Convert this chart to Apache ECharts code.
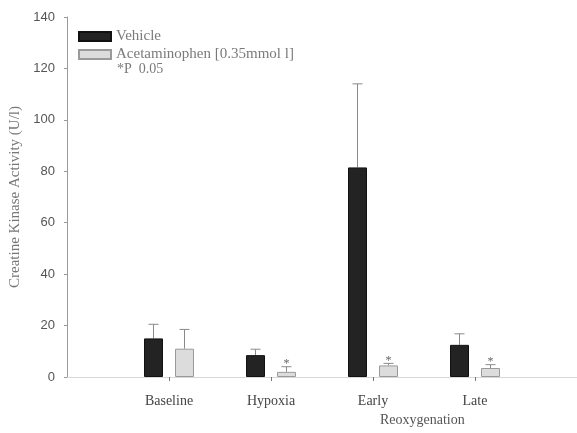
<!DOCTYPE html>
<html>
	<head>
		<meta charset="utf-8">
		<title></title>
		<style>
			html, body { margin: 0; padding: 0; background: #fff; }
			#main { width: 577px; height: 433px; }
		</style>
	</head>
	<body>
		<div id="main"></div>
		<script src="https://cdn.jsdelivr.net/npm/echarts@6/dist/echarts.min.js"></script>
		<script type="text/javascript">
			// padded with blank slots so the groups sit one step in from each end
			var categories = ['', 'Baseline', 'Hypoxia', 'Early', 'Late', ''];
			var vehicle = [null, 15, 8.5, 81.5, 12.5, null];
			var vehicleErr = [null, 20.5, 10.8, 114, 16.8, null];
			var acetaminophen = [null, 11, 2, 4.5, 3.5, null];
			var acetaminophenErr = [null, 18.5, 4, 5.3, 4.8, null];
			var significant = [false, false, true, true, true, false];
			var yTicks = [0, 20, 40, 60, 80, 100, 120, 140];

			var serif = 'Liberation Serif';
			var BAR_W = 19;
			var GAP = 12;

			function errData(vals, errs, side) {
				var out = [];
				for (var i = 0; i < vals.length; i++) {
					if (vals[i] == null) continue;
					out.push([i, vals[i], errs[i], side, significant[i] && side > 0 ? 1 : 0]);
				}
				return out;
			}

			function renderErr(params, api) {
				var idx = api.value(0);
				var top = api.coord([idx, api.value(2)]);
				var base = api.coord([idx, api.value(1)]);
				var x = top[0] + api.value(3) * (BAR_W + GAP) / 2;
				var children = [
					{type: 'line', shape: {x1: x, y1: base[1], x2: x, y2: top[1]}, style: {stroke: '#8a8a8a', lineWidth: 1}},
					{type: 'line', shape: {x1: x - 5, y1: top[1], x2: x + 5, y2: top[1]}, style: {stroke: '#8a8a8a', lineWidth: 1}}
				];
				if (api.value(4)) {
					children.push({type: 'text', style: {x: x, y: top[1] + 3, text: '*', fill: '#666', font: '12px ' + serif, align: 'center', verticalAlign: 'bottom'}});
				}
				return {type: 'group', children: children};
			}

			var myChart = echarts.init(document.getElementById('main'));
			var option = {
				animation: false,
				grid: {left: 67, right: 0, top: 17, bottom: 56, outerBoundsMode: 'none'},
				legend: {
					left: 73, top: 24, orient: 'vertical', icon: 'rect',
					itemWidth: 32, itemHeight: 9, itemGap: 3,
					textStyle: {fontFamily: serif, fontSize: 15, color: '#7a7a7a'},
					data: ['Vehicle', 'Acetaminophen [0.35mmol l]']
				},
				graphic: [
					{type: 'text', left: 117, top: 62, style: {text: '*P  0.05', font: '14px ' + serif, fill: '#7a7a7a'}},
					{type: 'text', left: 380, top: 413, style: {text: 'Reoxygenation', font: '14px ' + serif, fill: '#555'}}
				],
				xAxis: [{
					type: 'category', data: categories, boundaryGap: false,
					axisLine: {lineStyle: {color: '#9a9a9a'}},
					axisTick: {show: true, length: 4, lineStyle: {color: '#777'},
						interval: function (i) { return i > 0 && i < categories.length - 1; }},
					axisLabel: {margin: 17, fontFamily: serif, fontSize: 14, color: '#444'}
				}, {
					type: 'category', data: categories, position: 'top', boundaryGap: false,
					axisLine: {lineStyle: {color: '#d8d8d8'}},
					axisTick: {show: false}, axisLabel: {show: false}
				}],
				yAxis: [{
					type: 'value', min: 0, max: 140, interval: 20,
					name: 'Creatine Kinase Activity (U/l)', nameLocation: 'middle', nameGap: 44,
					nameTextStyle: {fontFamily: serif, fontSize: 15, color: '#777'},
					axisLine: {show: true, lineStyle: {color: '#9a9a9a'}},
					axisTick: {show: true, length: 3, lineStyle: {color: '#9a9a9a'}},
					axisLabel: {margin: 12, fontFamily: 'Liberation Sans', fontSize: 13, color: '#555',
						formatter: function (v) { return yTicks.indexOf(v) >= 0 ? String(v) : ''; }},
					splitLine: {show: false}
				}, {
					type: 'value', min: 0, max: 140, position: 'right',
					axisLine: {show: true, lineStyle: {color: '#e0e0e0'}},
					axisTick: {show: false}, axisLabel: {show: false}, splitLine: {show: false}
				}],
				series: [{
					name: 'Vehicle', type: 'bar', data: vehicle,
					barWidth: BAR_W, barGap: (GAP / BAR_W * 100) + '%',
					itemStyle: {color: '#232323', borderColor: '#111', borderWidth: 1}
				}, {
					name: 'Acetaminophen [0.35mmol l]', type: 'bar', data: acetaminophen,
					barWidth: BAR_W,
					itemStyle: {color: '#dcdcdc', borderColor: '#9a9a9a', borderWidth: 1}
				}, {
					type: 'custom', renderItem: renderErr, data: errData(vehicle, vehicleErr, -1), z: 1
				}, {
					type: 'custom', renderItem: renderErr, data: errData(acetaminophen, acetaminophenErr, 1), z: 1
				}]
			};
			myChart.setOption(option);
		</script>
	</body>
</html>
